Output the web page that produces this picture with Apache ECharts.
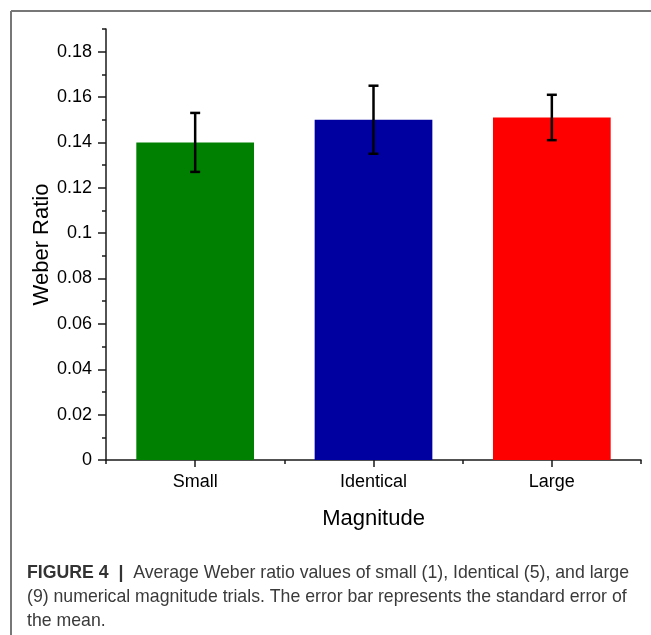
<!DOCTYPE html>
<html>
<head>
<meta charset="utf-8">
<script src="https://cdn.jsdelivr.net/npm/echarts@6/dist/echarts.min.js"></script>
<style>
  html, body { margin: 0; padding: 0; background: #fff; }
  #chart { width: 651px; height: 635px; }
</style>
</head>
<body>
<div id="chart"></div>
<script>
const categories = ['Small', 'Identical', 'Large'];
const meanValues = [0.140, 0.150, 0.151];
const errorValues = [0.013, 0.015, 0.010];
const barColors = ['#008000', '#0000A0', '#FF0000'];
const yMajorTicks = [0, 0.02, 0.04, 0.06, 0.08, 0.1, 0.12, 0.14, 0.16, 0.18];
const yAxisName = 'Weber Ratio';
const xAxisName = 'Magnitude';
const captionLines = [
  ['FIGURE 4  |  ', 'Average Weber ratio values of small (1), Identical (5), and large'],
  ['', '(9) numerical magnitude trials. The error bar represents the standard error of'],
  ['', 'the mean.']
];

const chart = echarts.init(document.getElementById('chart'), null, { renderer: 'canvas' });

const axisColor = '#1a1a1a';
const textFont = 'Liberation Sans, Arial, sans-serif';

const captionText = captionLines.map(l => (l[0] ? '{b|' + l[0] + '}' : '') + '{n|' + l[1] + '}').join('\n');

const option = {
  backgroundColor: '#ffffff',
  animation: false,
  grid: { left: 106, right: 10, top: 29, bottom: 175, containLabel: false },
  title: {
    text: captionText,
    left: 22,
    top: 556,
    textStyle: {
      rich: {
        b: { fontFamily: textFont, fontSize: 17.7, fontWeight: 'bold', color: '#333', lineHeight: 24 },
        n: { fontFamily: textFont, fontSize: 17.7, fontWeight: 'normal', color: '#3a3a3a', lineHeight: 24 }
      }
    }
  },
  graphic: [
    { type: 'line', shape: { x1: 11, y1: 11, x2: 651, y2: 11 }, style: { stroke: '#777', lineWidth: 2 } },
    { type: 'line', shape: { x1: 11, y1: 11, x2: 11, y2: 635 }, style: { stroke: '#777', lineWidth: 2 } }
  ],
  xAxis: [
    {
      type: 'category',
      data: categories,
      boundaryGap: true,
      position: 'bottom',
      name: xAxisName,
      nameLocation: 'middle',
      nameGap: 48,
      nameMoveOverlap: false,
      nameTextStyle: { fontFamily: textFont, fontSize: 22, color: '#000' },
      axisLine: { show: true, lineStyle: { color: axisColor, width: 1.5 } },
      axisTick: { show: true, alignWithLabel: true, length: 7, lineStyle: { color: axisColor, width: 1.5 } },
      axisLabel: { fontFamily: textFont, fontSize: 18, color: '#000', margin: 13 },
      splitLine: { show: false }
    },
    {
      type: 'category',
      data: categories,
      boundaryGap: true,
      position: 'bottom',
      axisLine: { show: false },
      axisTick: { show: true, alignWithLabel: false, length: 4, lineStyle: { color: axisColor, width: 1.5 } },
      axisLabel: { show: false },
      splitLine: { show: false }
    }
  ],
  yAxis: [
    {
      type: 'value',
      min: 0,
      max: 0.19,
      interval: 0.02,
      position: 'left',
      name: yAxisName,
      nameLocation: 'middle',
      nameGap: 53,
      nameMoveOverlap: false,
      nameTextStyle: { fontFamily: textFont, fontSize: 22, color: '#000' },
      axisLine: { show: true, lineStyle: { color: axisColor, width: 1.5 } },
      axisTick: { show: true, length: 8, customValues: yMajorTicks, lineStyle: { color: axisColor, width: 1.5 } },
      axisLabel: { fontFamily: textFont, fontSize: 18, color: '#000', margin: 14, customValues: yMajorTicks },
      splitLine: { show: false }
    },
    {
      type: 'value',
      min: 0,
      max: 0.19,
      interval: 0.01,
      position: 'left',
      offset: 0,
      axisLine: { show: false },
      axisTick: { show: true, length: 4, lineStyle: { color: axisColor, width: 1.5 } },
      axisLabel: { show: false },
      splitLine: { show: false }
    }
  ],
  series: [
    {
      type: 'bar',
      xAxisIndex: 0,
      yAxisIndex: 0,
      barWidth: '66%',
      data: meanValues.map((v, i) => ({ value: v, itemStyle: { color: barColors[i] } })),
      z: 2
    },
    {
      type: 'custom',
      xAxisIndex: 0,
      yAxisIndex: 0,
      z: 5,
      data: meanValues.map((v, i) => [i, v - errorValues[i], v + errorValues[i]]),
      encode: { x: 0, y: [1, 2] },
      renderItem: function (params, api) {
        const lo = api.coord([api.value(0), api.value(1)]);
        const hi = api.coord([api.value(0), api.value(2)]);
        const hw = 5;
        const style = { stroke: '#000', lineWidth: 2.5, fill: null };
        return {
          type: 'group',
          children: [
            { type: 'line', shape: { x1: hi[0], y1: hi[1], x2: lo[0], y2: lo[1] }, style: style },
            { type: 'line', shape: { x1: hi[0] - hw, y1: hi[1], x2: hi[0] + hw, y2: hi[1] }, style: style },
            { type: 'line', shape: { x1: lo[0] - hw, y1: lo[1], x2: lo[0] + hw, y2: lo[1] }, style: style }
          ]
        };
      }
    }
  ]
};

chart.setOption(option);
</script>
</body>
</html>
